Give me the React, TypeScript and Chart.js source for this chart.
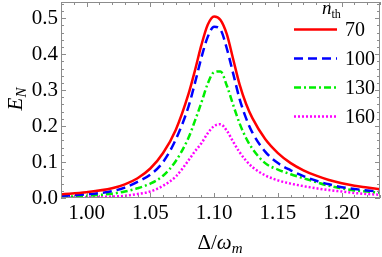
import React, { useEffect, useRef } from "react";
import { Chart, registerables } from "chart.js";
Chart.register(...registerables);

const deltaValues = [0.98, 1.0, 1.02, 1.03, 1.04, 1.05, 1.06, 1.07, 1.08, 1.085, 1.09, 1.095, 1.1, 1.105, 1.11, 1.115, 1.12, 1.125, 1.13, 1.14, 1.15, 1.16, 1.17, 1.18, 1.19, 1.2, 1.21, 1.22, 1.23];
const en70 = [0.010, 0.016, 0.027, 0.038, 0.055, 0.082, 0.125, 0.19, 0.29, 0.355, 0.425, 0.482, 0.505, 0.495, 0.455, 0.385, 0.315, 0.262, 0.222, 0.164, 0.125, 0.097, 0.077, 0.062, 0.050, 0.041, 0.034, 0.029, 0.024];
const en100 = [0.006, 0.010, 0.019, 0.029, 0.045, 0.065, 0.100, 0.163, 0.255, 0.32, 0.39, 0.448, 0.476, 0.468, 0.415, 0.345, 0.275, 0.222, 0.182, 0.129, 0.097, 0.077, 0.061, 0.048, 0.038, 0.030, 0.025, 0.021, 0.018];
const en130 = [0.003, 0.006, 0.012, 0.018, 0.027, 0.040, 0.062, 0.103, 0.168, 0.215, 0.265, 0.318, 0.350, 0.352, 0.312, 0.258, 0.207, 0.167, 0.137, 0.097, 0.079, 0.066, 0.055, 0.044, 0.034, 0.027, 0.021, 0.018, 0.015];
const en160 = [0.001, 0.002, 0.004, 0.006, 0.011, 0.018, 0.034, 0.060, 0.105, 0.130, 0.152, 0.180, 0.200, 0.205, 0.187, 0.156, 0.127, 0.104, 0.086, 0.063, 0.049, 0.040, 0.033, 0.027, 0.022, 0.018, 0.014, 0.011, 0.009];
const seriesLabels = ["70", "100", "130", "160"];
const xTickValues = [1.0, 1.05, 1.1, 1.15, 1.2];
const yTickValues = [0, 0.1, 0.2, 0.3, 0.4, 0.5];

const SERIF = "'Liberation Serif', 'Times New Roman', serif";

const framePlugin = {
  id: "frame",
  afterDatasetsDraw(chart: any) {
    const { ctx, chartArea: a, scales } = chart;
    const xs = scales.x, ys = scales.y;
    ctx.save();
    ctx.strokeStyle = "#8c8c8c";
    ctx.lineWidth = 1;
    ctx.strokeRect(a.left + 0.5, a.top + 0.5, a.right - a.left - 1, a.bottom - a.top - 1);
    ctx.beginPath();
    for (let i = 98; i <= 123; i++) {
      const px = Math.round(xs.getPixelForValue(i / 100)) + 0.5;
      const len = i % 5 === 0 ? 5 : 3;
      ctx.moveTo(px, a.bottom); ctx.lineTo(px, a.bottom - len);
      ctx.moveTo(px, a.top); ctx.lineTo(px, a.top + len);
    }
    for (let i = 0; i <= 27; i++) {
      const py = Math.round(ys.getPixelForValue(i * 0.02)) + 0.5;
      const len = i % 5 === 0 ? 5 : 3;
      ctx.moveTo(a.left, py); ctx.lineTo(a.left + len, py);
      ctx.moveTo(a.right, py); ctx.lineTo(a.right - len, py);
    }
    ctx.stroke();
    ctx.restore();
  },
};

const textPlugin = {
  id: "texts",
  afterDraw(chart: any) {
    const { ctx } = chart;
    ctx.save();
    ctx.fillStyle = "#000";
    ctx.textBaseline = "alphabetic";
    const f1 = `21px ${SERIF}`, f1i = `italic 21px ${SERIF}`, fsub = `italic 15px ${SERIF}`;
    ctx.font = f1; const w1 = ctx.measureText("Δ/").width;
    ctx.font = f1i; const w2 = ctx.measureText("ω").width;
    ctx.font = fsub; const w3 = ctx.measureText("m").width;
    let x = 220 - (w1 + w2 + w3) / 2;
    const by = 249;
    ctx.font = f1; ctx.fillText("Δ/", x, by); x += w1;
    ctx.font = f1i; ctx.fillText("ω", x, by); x += w2;
    ctx.font = fsub; ctx.fillText("m", x, by + 4);
    ctx.save();
    ctx.translate(22, 99);
    ctx.rotate(-Math.PI / 2);
    ctx.font = f1i; const we = ctx.measureText("E").width;
    ctx.font = fsub; const wn = ctx.measureText("N").width;
    let yx = -(we + wn) / 2;
    ctx.font = f1i; ctx.fillText("E", yx, 0); yx += we;
    ctx.font = fsub; ctx.fillText("N", yx, 4);
    ctx.restore();
    ctx.font = `italic 19px ${SERIF}`;
    ctx.fillText("n", 322, 14);
    const wnn = ctx.measureText("n").width;
    ctx.font = `12px ${SERIF}`;
    ctx.fillText("th", 322 + wnn, 18);
    const rows = [29, 58, 87, 116];
    chart.data.datasets.forEach((ds: any, i: number) => {
      const y = rows[i] + 0.5;
      ctx.save();
      ctx.strokeStyle = ds.borderColor;
      ctx.lineWidth = ds.borderWidth;
      ctx.setLineDash(ds.borderDash || []);
      ctx.beginPath(); ctx.moveTo(294, y); ctx.lineTo(337, y); ctx.stroke();
      ctx.restore();
      ctx.font = `20px ${SERIF}`;
      ctx.textBaseline = "middle";
      ctx.fillText(ds.label, 345, y + 1);
    });
    ctx.restore();
  },
};

export default function App() {
  const ref = useRef<HTMLCanvasElement>(null);
  useEffect(() => {
    document.body.style.margin = "0";
    const mk = (vals: number[]) => deltaValues.map((d, i) => ({ x: d, y: vals[i] }));
    const tickFont = { family: SERIF, size: 21 };
    const chart = new Chart(ref.current as HTMLCanvasElement, {
      type: "line",
      data: {
        datasets: [
          { label: seriesLabels[0], data: mk(en70), borderColor: "#ff0000", borderWidth: 2.5, pointRadius: 0, cubicInterpolationMode: "monotone", fill: false },
          { label: seriesLabels[1], data: mk(en100), borderColor: "#0000ff", borderWidth: 2.5, borderDash: [9, 5], pointRadius: 0, cubicInterpolationMode: "monotone", fill: false },
          { label: seriesLabels[2], data: mk(en130), borderColor: "#00ee00", borderWidth: 2.5, borderDash: [7, 3, 2, 3], pointRadius: 0, cubicInterpolationMode: "monotone", fill: false },
          { label: seriesLabels[3], data: mk(en160), borderColor: "#ff00ff", borderWidth: 2.5, borderDash: [2, 2], pointRadius: 0, cubicInterpolationMode: "monotone", fill: false },
        ],
      },
      options: {
        responsive: false,
        animation: false,
        devicePixelRatio: 1,
        layout: { padding: { top: 2, right: 2, left: 0, bottom: 0 } },
        plugins: { legend: { display: false }, tooltip: { enabled: false } },
        scales: {
          x: {
            type: "linear", min: 0.98, max: 1.23,
            afterBuildTicks: (s: any) => { s.ticks = xTickValues.map((v) => ({ value: v })); },
            afterFit: (s: any) => { s.height = 59; s.paddingLeft = 0; s.paddingRight = 0; },
            ticks: { callback: (v: any) => Number(v).toFixed(2), font: tickFont, color: "#000", padding: 3, maxRotation: 0, autoSkip: false },
            grid: { display: false, drawTicks: false },
            border: { display: false },
          },
          y: {
            type: "linear", min: 0, max: 0.545,
            afterBuildTicks: (s: any) => { s.ticks = yTickValues.map((v) => ({ value: v })); },
            afterFit: (s: any) => { s.width = 61; s.paddingTop = 0; s.paddingBottom = 0; },
            ticks: { callback: (v: any) => Number(v).toFixed(1), font: tickFont, color: "#000", padding: 3, autoSkip: false },
            grid: { display: false, drawTicks: false },
            border: { display: false },
          },
        },
      },
      plugins: [framePlugin, textPlugin],
    } as any);
    return () => chart.destroy();
  }, []);
  return (
    <div style={{ position: "relative", width: 382, height: 257 }}>
      <canvas ref={ref} width={382} height={257} />
    </div>
  );
}
